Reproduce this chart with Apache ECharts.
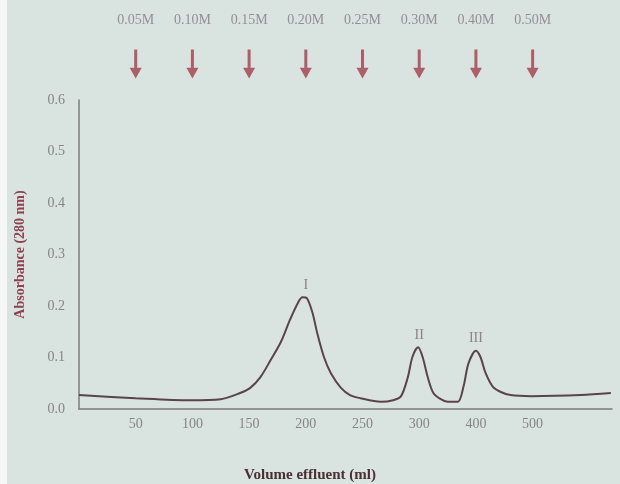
<!DOCTYPE html>
<html><head><meta charset="utf-8">
<script src="https://cdn.jsdelivr.net/npm/echarts@6/dist/echarts.min.js"></script>
<style>html,body{margin:0;padding:0;background:#fff}#c{width:620px;height:484px}</style>
</head><body><div id="c"></div>
<script>
// ---- data ----
const volumes = [0, 50, 98, 125, 142, 151, 160, 169, 178, 186, 193, 197, 201, 206, 210, 216, 222, 231, 239, 248, 266, 277, 284, 290, 294, 299, 306, 315, 325, 338, 350, 368, 378, 387, 400, 408, 417, 430, 444, 461, 497, 585, 638];
const absorbance = [0.027, 0.021, 0.017, 0.019, 0.031, 0.041, 0.062, 0.095, 0.130, 0.173, 0.206, 0.217, 0.215, 0.186, 0.148, 0.101, 0.070, 0.041, 0.027, 0.021, 0.014, 0.017, 0.025, 0.062, 0.101, 0.120, 0.101, 0.062, 0.031, 0.019, 0.014, 0.014, 0.043, 0.089, 0.113, 0.101, 0.070, 0.043, 0.033, 0.027, 0.025, 0.027, 0.031];
const tickVolumes = [50, 100, 150, 200, 250, 300, 400, 500];
const yTicks = [0, 0.1, 0.2, 0.3, 0.4, 0.5, 0.6];
const saltVolumes = [50, 100, 150, 200, 250, 300, 400, 500];
const saltLabels = ['0.05M', '0.10M', '0.15M', '0.20M', '0.25M', '0.30M', '0.40M', '0.50M'];
const peakNames = ['I', 'II', 'III'];
const peakVolumes = [200, 300, 400];
const peakValues = [0.217, 0.120, 0.113];
const xMaxVolume = 640;

// the printed axis is piecewise: 50 ml per tick up to 300, then 100 ml per tick
function slot(v) { return v <= 300 ? v / 50 : 6 + (v - 300) / 100; }

const serif = "'Liberation Serif','DejaVu Serif',serif";
const curve = volumes.map((v, i) => [slot(v), absorbance[i]]);
const tickMap = {};
tickVolumes.forEach(v => { tickMap[slot(v)] = String(v); });

const chart = echarts.init(document.getElementById('c'), null, {renderer: 'canvas'});
chart.setOption({
  backgroundColor: '#d9e3e0',
  animation: false,
  title: {
    text: 'Volume effluent (ml)', left: 'center', top: 463,
    textStyle: {fontFamily: serif, fontSize: 15, fontWeight: 'bold', color: '#4a2e36'}
  },
  graphic: [{type: 'rect', left: 0, top: 0, shape: {width: 7, height: 484}, style: {fill: '#f4f7f6'}, silent: true}],
  grid: [
    {left: 79, right: 8, top: 100, bottom: 75},
    {left: 79, right: 8, top: 0, height: 100}
  ],
  xAxis: [
    {
      type: 'value', gridIndex: 0, min: 0, max: slot(xMaxVolume), interval: 1,
      axisLine: {show: true, onZero: false, lineStyle: {color: '#7d7b7c', width: 1.5}},
      axisTick: {show: false}, splitLine: {show: false},
      axisLabel: {
        color: '#878586', fontFamily: serif, fontSize: 14, margin: 8,
        showMinLabel: true, showMaxLabel: false,
        formatter: v => tickMap[v] || ''
      }
    },
    {type: 'value', gridIndex: 1, min: 0, max: slot(xMaxVolume), show: false}
  ],
  yAxis: [
    {
      type: 'value', gridIndex: 0, min: 0, max: 0.6, interval: 0.1,
      name: 'Absorbance (280 nm)', nameLocation: 'middle', nameGap: 52, nameRotate: 90,
      nameTextStyle: {fontFamily: serif, fontSize: 14, fontWeight: 'bold', color: '#8e4150'},
      axisLine: {show: true, lineStyle: {color: '#7d7b7c', width: 1.5}},
      axisTick: {show: false}, splitLine: {show: false},
      axisLabel: {color: '#878586', fontFamily: serif, fontSize: 14, margin: 14, formatter: v => v.toFixed(1)}
    },
    {type: 'value', gridIndex: 1, min: 0, max: 100, show: false}
  ],
  series: [
    {
      type: 'line', xAxisIndex: 0, yAxisIndex: 0, data: curve,
      smooth: 0.3, showSymbol: false,
      lineStyle: {color: '#5a434b', width: 2}
    },
    {
      type: 'scatter', xAxisIndex: 0, yAxisIndex: 0, symbolSize: 0,
      data: peakVolumes.map((v, i) => ({value: [slot(v), peakValues[i]], name: peakNames[i]})),
      label: {show: true, position: 'top', distance: 5, formatter: p => p.name,
        fontFamily: serif, fontSize: 14, color: '#7a6a70'}
    },
    {
      type: 'scatter', xAxisIndex: 1, yAxisIndex: 1,
      symbol: 'path://M4.5,0 L7.5,0 L7.5,19 L12,19 L6,30 L0,19 L4.5,19 Z',
      symbolSize: [12, 29], itemStyle: {color: '#a03c4b'},
      data: saltVolumes.map((v, i) => ({value: [slot(v), 36], name: saltLabels[i]})),
      label: {show: true, position: 'top', distance: 22, formatter: p => p.name,
        fontFamily: serif, fontSize: 14, color: '#85797f'}
    }
  ]
});
</script></body></html>
